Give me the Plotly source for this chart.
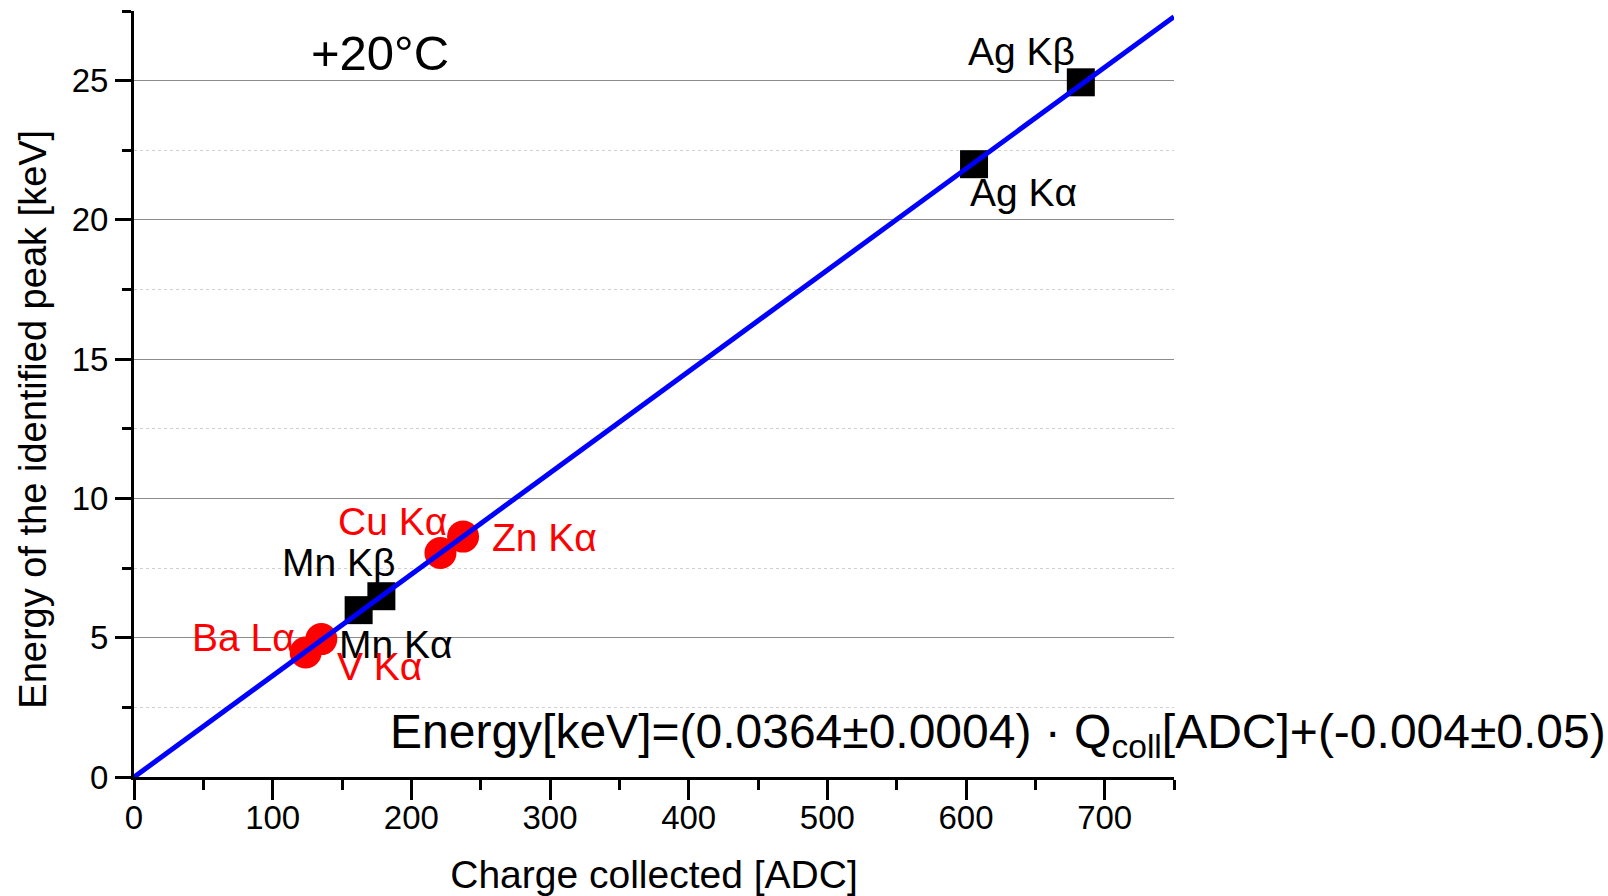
import plotly.graph_objects as go

# ---- data ----
sq_names = ["Mn Kα", "Mn Kβ", "Ag Kα", "Ag Kβ"]
sq_x = [162.0, 178.4, 605.8, 682.8]
sq_y = [5.99, 6.49, 22.0, 24.94]

circ_names = ["Ba Lα", "V Kα", "Cu Kα", "Zn Kα"]
circ_x = [123.8, 135.1, 221.0, 237.3]
circ_y = [4.47, 4.95, 8.04, 8.63]

fit_slope = 0.0364
fit_intercept = -0.004
fit_x = [0, 750]
fit_y = [fit_slope * v + fit_intercept for v in fit_x]

# label positions (data coords)
sq_label_x = [189.0, 147.2, 641.5, 640.2]
sq_label_y = [4.77, 7.71, 21.0, 26.05]
circ_label_x = [79.0, 177.1, 186.5, 296.0]
circ_label_y = [5.02, 3.95, 9.19, 8.61]

x_ticks = [0, 100, 200, 300, 400, 500, 600, 700]
y_ticks = [0, 5, 10, 15, 20, 25]

FONT = "Liberation Sans, Arial, sans-serif"

fig = go.Figure()
fig.add_trace(go.Scatter(x=circ_x, y=circ_y, mode="markers",
                         marker=dict(symbol="circle", size=32, color="#ff0000",
                                     line=dict(width=0)),
                         showlegend=False, cliponaxis=False, hoverinfo="skip"))
fig.add_trace(go.Scatter(x=sq_x, y=sq_y, mode="markers",
                         marker=dict(symbol="square", size=28, color="#000000",
                                     line=dict(width=0)),
                         showlegend=False, cliponaxis=False, hoverinfo="skip"))
fig.add_trace(go.Scatter(x=fit_x, y=fit_y, mode="lines",
                         line=dict(color="#0000ff", width=5),
                         showlegend=False, cliponaxis=False, hoverinfo="skip"))

annotations = []
for n, x, y in zip(sq_names, sq_label_x, sq_label_y):
    annotations.append(dict(x=x, y=y, xref="x", yref="y", text=n, showarrow=False,
                            xanchor="center", yanchor="middle",
                            font=dict(family=FONT, size=39, color="#000000")))
for n, x, y in zip(circ_names, circ_label_x, circ_label_y):
    annotations.append(dict(x=x, y=y, xref="x", yref="y", text=n, showarrow=False,
                            xanchor="center", yanchor="middle",
                            font=dict(family=FONT, size=39, color="#ff0000")))
annotations.append(dict(x=177.5, y=26.0, xref="x", yref="y", text="+20°C",
                        showarrow=False, xanchor="center", yanchor="middle",
                        font=dict(family=FONT, size=49, color="#000000")))
annotations.append(dict(x=183.5, y=1.5, xref="x", yref="y",
                        text="Energy[keV]=(0.0364±0.0004) · Q<sub>coll</sub>[ADC]+(-0.004±0.05)",
                        showarrow=False, xanchor="left", yanchor="middle",
                        font=dict(family=FONT, size=48, color="#000000")))
# y-axis title (placed as annotation: it sits below the axis centre in the reference)
annotations.append(dict(x=-0.0971, y=12.83, xref="paper", yref="y",
                        text="Energy of the identified peak [keV]", textangle=-90,
                        showarrow=False, xanchor="center", yanchor="middle",
                        font=dict(family=FONT, size=38, color="#000000")))

fig.update_layout(
    width=1608, height=896,
    margin=dict(l=134, r=434, t=11, b=119, autoexpand=False),
    paper_bgcolor="white", plot_bgcolor="white",
    annotations=annotations,
    xaxis=dict(range=[0, 750], tickvals=x_ticks, ticktext=[str(v) for v in x_ticks],
               showgrid=False, zeroline=False,
               showline=True, linecolor="black", linewidth=3,
               ticks="outside", ticklen=20, tickwidth=3, tickcolor="black",
               ticklabelstandoff=-11,
               minor=dict(dtick=50, tick0=0, ticks="outside", ticklen=10, tickwidth=3,
                          tickcolor="black", showgrid=False),
               tickfont=dict(family=FONT, size=33, color="black"),
               title=dict(text="Charge collected [ADC]", standoff=29,
                          font=dict(family=FONT, size=39, color="black")),
               automargin=False),
    yaxis=dict(range=[0, 27.5], tickvals=y_ticks, ticktext=[str(v) for v in y_ticks],
               showgrid=True, gridcolor="#8c8c8c", gridwidth=1, zeroline=False,
               showline=True, linecolor="black", linewidth=3,
               ticks="outside", ticklen=16, tickwidth=3, tickcolor="black",
               minor=dict(dtick=2.5, tick0=0, ticks="outside", ticklen=9, tickwidth=3,
                          tickcolor="black", showgrid=True, gridcolor="#d0d0d0",
                          griddash="dot", gridwidth=1),
               tickfont=dict(family=FONT, size=33, color="black"),
               automargin=False),
)

fig.write_html("out.html", config={"displayModeBar": False},
               post_script="document.body.style.margin='0';")
